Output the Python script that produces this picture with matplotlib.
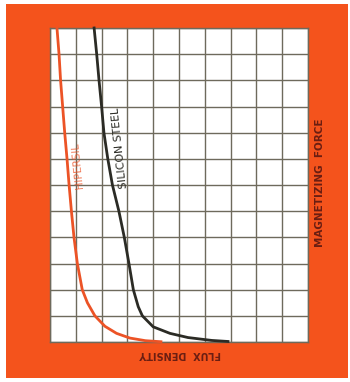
import matplotlib
matplotlib.use("Agg")
import matplotlib.pyplot as plt
from matplotlib.patches import Rectangle

# ── Palette ──────────────────────────────────────────────────────────────────
ORANGE   = "#f4531c"
GRID_COL = "#6e6a5c"
HIPER    = "#ec5326"
STEEL    = "#2b2b25"
LABEL    = "#6a1e12"

# ── Data (grid units: x = magnetizing force, y = flux density) ──────────────
hipersil_x = [0.27, 0.35, 0.41, 0.49, 0.57, 0.66, 0.74, 0.83, 0.93, 1.06,
              1.25, 1.45, 1.74, 2.13, 2.58, 3.10, 3.70, 4.30]
hipersil_y = [12, 11, 10, 9, 8, 7, 6, 5, 4, 3,
              2, 1.5, 1, 0.6, 0.33, 0.15, 0.05, 0.01]

silicon_x = [1.71, 1.81, 1.90, 2.00, 2.09, 2.24, 2.42, 2.67, 2.88, 3.06,
             3.23, 3.42, 3.58, 4.00, 4.65, 5.35, 6.27, 6.90]
silicon_y = [12, 11, 10, 9, 8, 7, 6, 5, 4, 3,
             2, 1.35, 1, 0.58, 0.33, 0.17, 0.06, 0.02]

N_COLS, N_ROWS = 10, 12

# ── Figure ───────────────────────────────────────────────────────────────────
fig = plt.figure(figsize=(3.5, 3.82), dpi=100, facecolor="white")
fig.patches.append(Rectangle((6 / 350, 4 / 382), 342 / 350, 374 / 382,
                             transform=fig.transFigure, facecolor=ORANGE,
                             edgecolor="none", zorder=-10))

ax = fig.add_axes([50 / 350, 40 / 382, 258 / 350, 314 / 382])
ax.set_zorder(1)
ax.set_facecolor("white")
ax.set_xlim(0, N_COLS)
ax.set_ylim(0, N_ROWS)
ax.set_xticks(range(N_COLS + 1))
ax.set_yticks(range(N_ROWS + 1))
ax.tick_params(length=0, labelbottom=False, labelleft=False)
ax.grid(True, color=GRID_COL, lw=1.0)
for s in ax.spines.values():
    s.set_color(GRID_COL)
    s.set_linewidth(1.0)

ax.plot(hipersil_x, hipersil_y, color=HIPER, lw=2.0, zorder=3,
        solid_joinstyle="round", clip_on=False)
ax.plot(silicon_x, silicon_y, color=STEEL, lw=2.0, zorder=3,
        solid_joinstyle="round", clip_on=False)

# curve labels, running parallel to each curve
ax.text(1.07, 6.76, "HIPERSIL", color=HIPER, rotation=96, fontsize=7.5,
        ha="center", va="center", alpha=0.75)
ax.text(2.72, 7.43, "SILICON STEEL", color=STEEL, rotation=96, fontsize=7.8,
        ha="center", va="center")

# axis titles (as printed: upside-down and sideways)
fig.text(180 / 350, 1 - 354 / 382, "FLUX  DENSITY", color=LABEL, rotation=180,
         fontsize=7, fontweight="bold", ha="center", va="center", zorder=2)
fig.text(320 / 350, 1 - 183 / 382, "MAGNETIZING  FORCE", color=LABEL,
         rotation=90, fontsize=7.5, fontweight="bold", ha="center",
         va="center", zorder=2)

fig.savefig("out.png", dpi=100, facecolor="white")
